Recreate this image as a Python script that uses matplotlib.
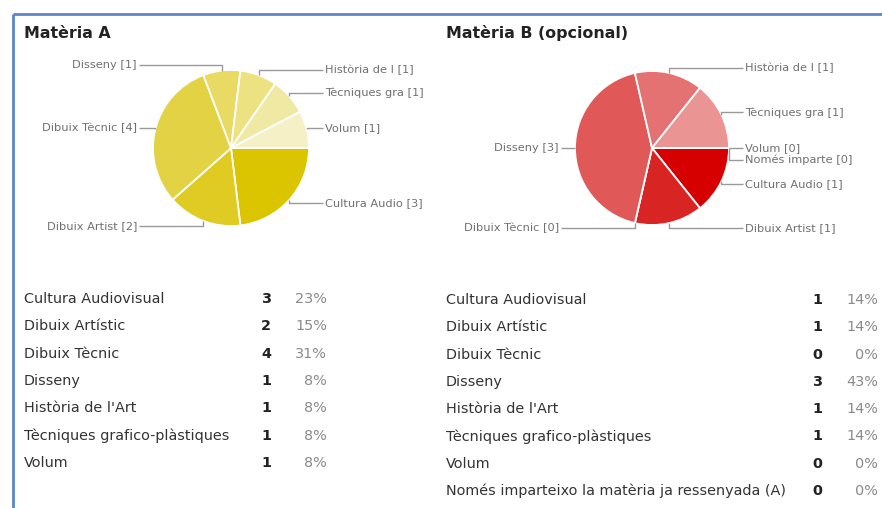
import matplotlib
matplotlib.use("Agg")
import matplotlib.pyplot as plt
import numpy as np

# ---------------- data ----------------
title_a = "Matèria A"
title_b = "Matèria B (opcional)"

cats_a = ["Cultura Audiovisual", "Dibuix Artístic", "Dibuix Tècnic", "Disseny",
          "Història de l'Art", "Tècniques grafico-plàstiques", "Volum"]
short_a = ["Cultura Audio", "Dibuix Artist", "Dibuix Tècnic", "Disseny",
           "Història de l", "Tècniques gra", "Volum"]
vals_a = [3, 2, 4, 1, 1, 1, 1]
colors_a = ["#dbc400", "#e0cb22", "#e4d245", "#e8da62", "#ece282", "#f0e9a3", "#f5f0c6"]

cats_b = ["Cultura Audiovisual", "Dibuix Artístic", "Dibuix Tècnic", "Disseny",
          "Història de l'Art", "Tècniques grafico-plàstiques", "Volum",
          "Només imparteixo la matèria ja ressenyada (A)"]
short_b = ["Cultura Audio", "Dibuix Artist", "Dibuix Tècnic", "Disseny",
           "Història de l", "Tècniques gra", "Volum", "Només imparte"]
vals_b = [1, 1, 0, 3, 1, 1, 0, 0]
colors_b = ["#d60000", "#d92424", "#dd3c3c", "#e05858", "#e47272", "#ea9494", "#eeaaaa", "#f2c0c0"]

# ---------------- figure ----------------
W, H = 882, 508
fig = plt.figure(figsize=(W / 100, H / 100), dpi=100)
ax = fig.add_axes([0, 0, 1, 1])
plt.rcParams['font.family'] = ['DejaVu Sans']

FONT = "DejaVu Sans"
LINE_C = "#9a9a9a"
LABEL_C = "#707070"


def Y(y):
    return H - y


def draw_pie(cx, cy, r, vals, colors, short, side_gap=16):
    wedges, _ = ax.pie(vals, colors=colors, startangle=0, counterclock=False,
                       center=(cx, Y(cy)), radius=r,
                       wedgeprops=dict(edgecolor="#ffffff", linewidth=1.3))
    last_y = {"L": None, "R": None}
    for w, lab, v in zip(wedges, short, vals):
        mid = np.deg2rad((w.theta1 + w.theta2) / 2.0)
        px = cx + r * np.cos(mid)
        py = Y(cy) + r * np.sin(mid)
        ly = Y(cy) + 1.07 * r * np.sin(mid)
        side = "R" if np.cos(mid) >= -1e-6 else "L"
        if last_y[side] is not None and abs(last_y[side] - ly) < 11:
            ly = last_y[side] - 12
        last_y[side] = ly
        if side == "R":
            xe = cx + r + side_gap - 2
            xt = cx + r + side_gap
            ha = "left"
        else:
            xe = cx - r - side_gap + 2
            xt = cx - r - side_gap
            ha = "right"
        ax.plot([px, px, xe], [py, ly, ly], color=LINE_C, lw=1.0, solid_capstyle="butt",
                zorder=1)
        ax.text(xt, ly, f"{lab} [{v}]", ha=ha, va="center", fontsize=8.2,
                color=LABEL_C, family=FONT)


draw_pie(231, 148, 78, vals_a, colors_a, short_a)
draw_pie(652, 148, 77, vals_b, colors_b, short_b)

# titles
ax.text(24, Y(33), title_a, ha="left", va="center", fontsize=11.4, fontweight="bold",
        color="#222222", family=FONT)
ax.text(446, Y(33), title_b, ha="left", va="center", fontsize=11.4, fontweight="bold",
        color="#222222", family=FONT)


def draw_table(x_name, x_cnt, x_pct, y0, dy, cats, vals):
    tot = sum(vals)
    for i, (c, v) in enumerate(zip(cats, vals)):
        y = Y(y0 + i * dy)
        ax.text(x_name, y, c, ha="left", va="center", fontsize=10.4, color="#333333",
                family=FONT)
        ax.text(x_cnt, y, str(v), ha="right", va="center", fontsize=10.4,
                fontweight="bold", color="#222222", family=FONT)
        ax.text(x_pct, y, f"{round(100 * v / tot)}%", ha="right", va="center",
                fontsize=10.4, color="#8a8a8a", family=FONT)


draw_table(24, 271, 327, 299, 27.3, cats_a, vals_a)
draw_table(446, 822, 878, 300, 27.3, cats_b, vals_b)

# blue frame (top and left)
ax.plot([13, W], [Y(13.5), Y(13.5)], color="#5b87c6", lw=2.0, solid_capstyle="butt")
ax.plot([13, 13], [Y(13.5), 0], color="#5b87c6", lw=2.0, solid_capstyle="butt")

ax.set_xlim(0, W)
ax.set_ylim(0, H)
ax.set_aspect("auto")
ax.axis("off")

fig.savefig("out.png", dpi=100, facecolor="white")
